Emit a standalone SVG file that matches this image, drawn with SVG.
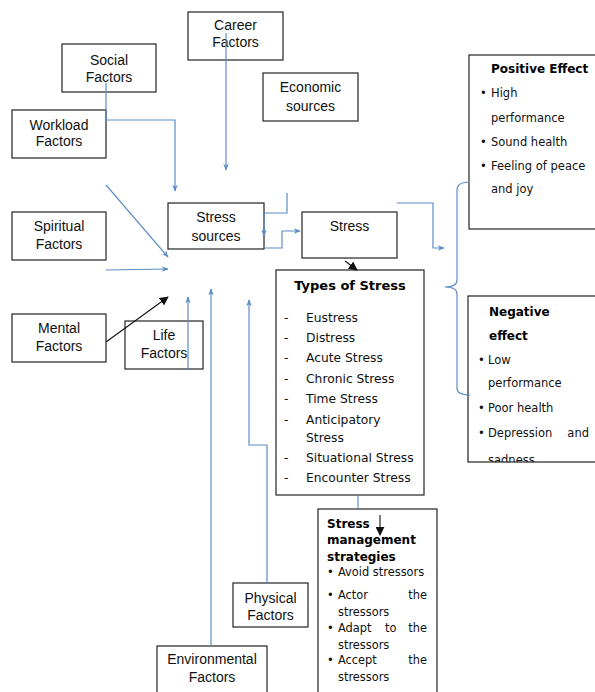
<svg xmlns="http://www.w3.org/2000/svg" width="595" height="692" viewBox="0 0 595 692">
<style>
  .box { fill: #fff; stroke: #222; stroke-width: 1.2; }
  .lbl { font-family: "Liberation Sans", Arial, sans-serif; font-size: 14px; fill: #111; text-anchor: middle; }
  .t { font-family: "DejaVu Sans", Verdana, sans-serif; font-size: 12.3px; fill: #111; }
  .tb { font-family: "DejaVu Sans", Verdana, sans-serif; font-size: 13px; font-weight: bold; fill: #000; }
  .e { font-family: "DejaVu Sans", Verdana, sans-serif; font-size: 11.5px; fill: #111; }
  .eb { font-family: "DejaVu Sans", Verdana, sans-serif; font-size: 12px; font-weight: bold; fill: #000; }
  .m { font-family: "DejaVu Sans", Verdana, sans-serif; font-size: 11.4px; fill: #111; }
  .mb { font-family: "DejaVu Sans", Verdana, sans-serif; font-size: 12px; font-weight: bold; fill: #000; }
  .c { fill: none; stroke: #5b8cc8; stroke-width: 1.2; }
  .k { fill: none; stroke: #111; stroke-width: 1.1; }
</style>
<defs>
  <marker id="ab" viewBox="0 0 10 10" refX="9" refY="5" markerWidth="7" markerHeight="7" markerUnits="userSpaceOnUse" orient="auto">
    <path d="M0,1 L10,5 L0,9 L3,5 z" fill="#5b8cc8"/>
  </marker>
  <marker id="ak" viewBox="0 0 10 10" refX="9" refY="5" markerWidth="9" markerHeight="9" markerUnits="userSpaceOnUse" orient="auto">
    <path d="M0,0 L10,5 L0,10 z" fill="#111"/>
  </marker>
  <clipPath id="negclip"><rect x="468" y="296" width="130" height="166"/></clipPath>
</defs>

<g id="career">
  <rect class="box" x="188" y="12" width="95" height="48"/>
  <text class="lbl" x="235.5" y="30">Career</text>
  <text class="lbl" x="235.5" y="47">Factors</text>
</g>
<g id="social">
  <rect class="box" x="62" y="44" width="94" height="48"/>
  <text class="lbl" x="109" y="65">Social</text>
  <text class="lbl" x="109" y="82">Factors</text>
</g>
<g id="workload">
  <rect class="box" x="12" y="110" width="94" height="48"/>
  <text class="lbl" x="59" y="130">Workload</text>
  <text class="lbl" x="59" y="146">Factors</text>
</g>
<g id="economic">
  <rect class="box" x="263" y="73" width="95" height="48"/>
  <text class="lbl" x="310.5" y="92">Economic</text>
  <text class="lbl" x="310.5" y="111">sources</text>
</g>
<g id="spiritual">
  <rect class="box" x="12" y="212" width="94" height="48"/>
  <text class="lbl" x="59" y="231">Spiritual</text>
  <text class="lbl" x="59" y="249">Factors</text>
</g>
<g id="stress-sources">
  <rect class="box" x="168" y="203" width="96" height="46"/>
  <text class="lbl" x="216" y="222">Stress</text>
  <text class="lbl" x="216" y="241">sources</text>
</g>
<g id="stress">
  <rect class="box" x="302" y="212" width="95" height="46"/>
  <text class="lbl" x="349.5" y="231">Stress</text>
</g>
<g id="mental">
  <rect class="box" x="12" y="314" width="94" height="48"/>
  <text class="lbl" x="59" y="333">Mental</text>
  <text class="lbl" x="59" y="351">Factors</text>
</g>
<g id="life">
  <rect class="box" x="125" y="321" width="78" height="48"/>
  <text class="lbl" x="164" y="340">Life</text>
  <text class="lbl" x="164" y="358">Factors</text>
</g>
<g id="physical">
  <rect class="box" x="233" y="583" width="75" height="44"/>
  <text class="lbl" x="270.5" y="603">Physical</text>
  <text class="lbl" x="270.5" y="620">Factors</text>
</g>
<g id="environmental">
  <rect class="box" x="157" y="646" width="110" height="50"/>
  <text class="lbl" x="212" y="664">Environmental</text>
  <text class="lbl" x="212" y="682">Factors</text>
</g>

<g id="types">
  <rect class="box" x="276" y="270" width="148" height="225"/>
  <text class="tb" x="350" y="290" text-anchor="middle">Types of Stress</text>
  <g class="t">
    <text x="284" y="322">-</text><text x="306" y="322">Eustress</text>
    <text x="284" y="342">-</text><text x="306" y="342">Distress</text>
    <text x="284" y="362">-</text><text x="306" y="362">Acute Stress</text>
    <text x="284" y="383">-</text><text x="306" y="383">Chronic Stress</text>
    <text x="284" y="403">-</text><text x="306" y="403">Time Stress</text>
    <text x="284" y="424">-</text><text x="306" y="424">Anticipatory</text>
    <text x="306" y="442">Stress</text>
    <text x="284" y="462">-</text><text x="306" y="462">Situational Stress</text>
    <text x="284" y="482">-</text><text x="306" y="482">Encounter Stress</text>
  </g>
</g>

<g id="positive">
  <rect class="box" x="469" y="55" width="135" height="174"/>
  <text class="eb" x="491" y="73">Positive Effect</text>
  <g class="e">
    <text x="480" y="97">•</text><text x="491" y="97">High</text>
    <text x="491" y="122">performance</text>
    <text x="480" y="146">•</text><text x="491" y="146">Sound health</text>
    <text x="480" y="170">•</text><text x="491" y="170">Feeling of peace</text>
    <text x="491" y="193">and joy</text>
  </g>
</g>

<g id="negative">
  <rect class="box" x="468" y="296" width="135" height="166"/>
  <g clip-path="url(#negclip)">
    <text class="eb" x="489" y="316">Negative</text>
    <text class="eb" x="489" y="340">effect</text>
    <g class="e">
      <text x="478" y="364">•</text><text x="488" y="364">Low</text>
      <text x="488" y="387">performance</text>
      <text x="478" y="412">•</text><text x="488" y="412">Poor health</text>
      <text x="478" y="437">•</text><text x="488" y="437">Depression<tspan x="589" text-anchor="end">and</tspan></text>
      <text x="488" y="464">sadness</text>
    </g>
  </g>
</g>

<g id="management">
  <rect class="box" x="318" y="509" width="119" height="190"/>
  <text class="mb" x="327" y="528">Stress</text>
  <text class="mb" x="327" y="544">management</text>
  <text class="mb" x="327" y="561">strategies</text>
  <g class="m">
    <text x="327" y="576">•</text><text x="338" y="576">Avoid stressors</text>
    <text x="327" y="599">•</text><text x="338" y="599">Actor<tspan x="427" text-anchor="end">the</tspan></text>
    <text x="338" y="616">stressors</text>
    <text x="327" y="632">•</text><text x="338" y="632">Adapt<tspan x="385">to</tspan><tspan x="427" text-anchor="end">the</tspan></text>
    <text x="338" y="649">stressors</text>
    <text x="327" y="664">•</text><text x="338" y="664">Accept<tspan x="427" text-anchor="end">the</tspan></text>
    <text x="338" y="681">stressors</text>
  </g>
</g>

<g id="connectors">
  <polyline class="c" points="106,83 106,120 175,120 175,191" marker-end="url(#ab)"/>
  <polyline class="c" points="226,33 226,170" marker-end="url(#ab)"/>
  <line class="c" x1="106" y1="185" x2="168" y2="257" marker-end="url(#ab)"/>
  <line class="c" x1="106" y1="270" x2="168" y2="269" marker-end="url(#ab)"/>
  <line class="k" x1="106" y1="342" x2="168" y2="297" marker-end="url(#ak)"/>
  <line class="c" x1="188" y1="370" x2="188" y2="297" marker-end="url(#ab)"/>
  <line class="c" x1="211" y1="646" x2="211" y2="289" marker-end="url(#ab)"/>
  <polyline class="c" points="267,583 267,445 249,445 249,300" marker-end="url(#ab)"/>
  <polyline class="c" points="287,193 287,213 264,213 264,236" marker-end="url(#ab)"/>
  <polyline class="c" points="264,248 282,248 282,231 300,231" marker-end="url(#ab)"/>
  <polyline class="c" points="397,203 433,203 433,248 444,248" marker-end="url(#ab)"/>
  <path class="c" d="M470,182 Q457,182 457,190 L457,280 Q457,287 445,287 Q457,287 457,294 L457,388 Q457,395 470,395"/>
  <line class="k" x1="345" y1="261" x2="357" y2="270" marker-end="url(#ak)"/>
  <line class="c" x1="358" y1="495" x2="358" y2="509"/>
  <line class="k" x1="380" y1="515" x2="380" y2="535" marker-end="url(#ak)"/>
</g>
</svg>
